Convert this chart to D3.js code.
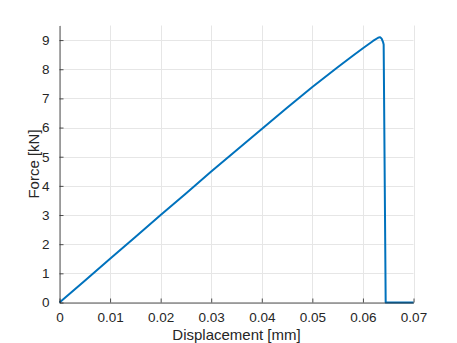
<!DOCTYPE html>
<html>
<head>
<meta charset="utf-8">
<script src="https://cdn.jsdelivr.net/npm/d3@7"></script>
<style>
  html, body { margin: 0; padding: 0; background: #fff; }
  svg { display: block; }
  text { font-family: "Liberation Sans", Arial, Helvetica, sans-serif; fill: #262626; }
</style>
</head>
<body>
<svg id="chart" width="457" height="343"></svg>
<script>
// Data
const displacement = [0, 0.005, 0.01, 0.015, 0.02, 0.025, 0.03, 0.035, 0.04, 0.045, 0.05, 0.055, 0.058, 0.06, 0.062, 0.063, 0.0634, 0.0637, 0.0640, 0.0641, 0.0645, 0.0700];
const force        = [0, 0.75, 1.50, 2.25, 3.00, 3.74, 4.49, 5.22, 5.95, 6.68, 7.39, 8.07, 8.46, 8.72, 8.97, 9.08, 9.10, 9.05, 8.92, 8.85, 0.00, 0.00];
const xTicks = [0, 0.01, 0.02, 0.03, 0.04, 0.05, 0.06, 0.07];
const xTickLabels = ["0", "0.01", "0.02", "0.03", "0.04", "0.05", "0.06", "0.07"];
const yTicks = [0, 1, 2, 3, 4, 5, 6, 7, 8, 9];
const xLabel = "Displacement [mm]";
const yLabel = "Force [kN]";

const svg = d3.select("#chart");
const margin = { left: 59.5, right: 413.5, top: 25.5, bottom: 302.5 };

const x = d3.scaleLinear().domain([0, 0.07]).range([margin.left, margin.right]);
const y = d3.scaleLinear().domain([0, 9.5]).range([margin.bottom, margin.top]);

// grid
const grid = svg.append("g");
grid.selectAll("line.vx").data(xTicks).enter().append("line")
  .attr("x1", d => Math.round(x(d)) + 0.5).attr("x2", d => Math.round(x(d)) + 0.5)
  .attr("y1", margin.top).attr("y2", margin.bottom)
  .attr("stroke", "#e6e6e6").attr("stroke-width", 1);
grid.selectAll("line.hy").data(yTicks).enter().append("line")
  .attr("y1", d => Math.round(y(d)) + 0.5).attr("y2", d => Math.round(y(d)) + 0.5)
  .attr("x1", margin.left).attr("x2", margin.right)
  .attr("stroke", "#e6e6e6").attr("stroke-width", 1);

// data line
const pts = displacement.map((d, i) => [d, force[i]]);
svg.append("path")
  .datum(pts)
  .attr("fill", "none")
  .attr("stroke", "#0072BD")
  .attr("stroke-width", 2)
  .attr("stroke-linejoin", "round")
  .attr("d", d3.line().x(d => x(d[0])).y(d => y(d[1])));

// axes (MATLAB style: inward ticks)
const xAxis = d3.axisBottom(x).tickValues(xTicks).tickFormat((d, i) => xTickLabels[i])
  .tickSizeInner(-4).tickSizeOuter(0).tickPadding(10);
const gx = svg.append("g").attr("transform", `translate(0,${margin.bottom})`).call(xAxis);
const yAxis = d3.axisLeft(y).tickValues(yTicks).tickFormat(d3.format("d"))
  .tickSizeInner(-4).tickSizeOuter(0).tickPadding(10);
const gy = svg.append("g").attr("transform", `translate(${margin.left},0)`).call(yAxis);

[gx, gy].forEach(g => {
  g.select(".domain").attr("stroke", "#262626").attr("stroke-width", 0.8);
  g.selectAll(".tick line").attr("stroke", "#262626").attr("stroke-width", 0.8);
  g.selectAll(".tick text").attr("font-size", 13.5).attr("fill", "#262626")
    .style("font-family", '"Liberation Sans", Arial, sans-serif');
});
gx.selectAll(".tick text").attr("dy", "0.71em");

// axis labels
svg.append("text")
  .attr("x", (margin.left + margin.right) / 2)
  .attr("y", 339.5)
  .attr("text-anchor", "middle")
  .attr("font-size", 15)
  .text(xLabel);

svg.append("text")
  .attr("transform", `translate(38.5,${(margin.top + margin.bottom) / 2}) rotate(-90)`)
  .attr("text-anchor", "middle")
  .attr("font-size", 15)
  .text(yLabel);
</script>
</body>
</html>
